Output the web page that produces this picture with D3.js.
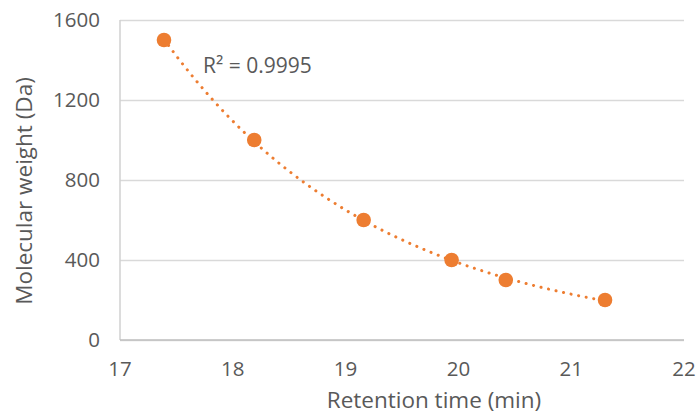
<!DOCTYPE html>
<html>
<head>
<meta charset="utf-8">
<script src="https://cdn.jsdelivr.net/npm/d3@7"></script>
<style>
  html, body { margin: 0; padding: 0; background: #fff; }
  svg { display: block; }
</style>
</head>
<body>
<svg id="chart" width="699" height="415"></svg>
<script>
const retentionTime = [17.39, 18.19, 19.16, 19.94, 20.42, 21.30];
const molecularWeight = [1500, 1000, 600, 400, 300, 200];
const xTicks = [17, 18, 19, 20, 21, 22];
const yTicks = [0, 400, 800, 1200, 1600];
const r2Label = "R² = 0.9995";
const xTitle = "Retention time (min)";
const yTitle = "Molecular weight (Da)";

const W = 699, H = 415;
const margin = { left: 120, right: 15, top: 20, bottom: 75 };
const svg = d3.select("#chart");
const font = "'Open Sans', sans-serif";
const textColor = "#595959";
const orange = "#ED7D31";

const x = d3.scaleLinear().domain([17, 22]).range([margin.left, W - margin.right]);
const y = d3.scaleLinear().domain([0, 1600]).range([H - margin.bottom, margin.top]);

// gridlines
const gy = svg.append("g")
  .attr("transform", `translate(${margin.left},0)`)
  .call(d3.axisLeft(y).tickValues(yTicks).tickSize(-(W - margin.right - margin.left)).tickFormat(""));
gy.select(".domain").remove();
gy.selectAll(".tick line").attr("stroke", "#D9D9D9").attr("stroke-width", 1.5);

// y tick labels
svg.append("g").selectAll("text").data(yTicks).join("text")
  .attr("x", margin.left - 20)
  .attr("y", d => y(d))
  .attr("dy", "0.36em")
  .attr("text-anchor", "end")
  .attr("font-family", font).attr("font-size", 20.5).attr("fill", textColor)
  .text(d => d);

// left axis line
svg.append("line")
  .attr("x1", x(17)).attr("x2", x(17))
  .attr("y1", y(1600)).attr("y2", y(0))
  .attr("stroke", "#D0D0D0").attr("stroke-width", 1.5);
// bottom axis line
svg.append("line")
  .attr("x1", x(17)).attr("x2", x(22))
  .attr("y1", y(0)).attr("y2", y(0))
  .attr("stroke", "#BFBFBF").attr("stroke-width", 1.5);

// x tick labels
svg.append("g").selectAll("text").data(xTicks).join("text")
  .attr("x", d => x(d))
  .attr("y", y(0) + 36)
  .attr("text-anchor", "middle")
  .attr("font-family", font).attr("font-size", 20.5).attr("fill", textColor)
  .text(d => d);

// axis titles
svg.append("text")
  .attr("x", 434)
  .attr("y", 408)
  .attr("text-anchor", "middle")
  .attr("font-family", font).attr("font-size", 22.5).attr("fill", textColor)
  .text(xTitle);
svg.append("text")
  .attr("transform", `translate(32,191) rotate(-90)`)
  .attr("text-anchor", "middle")
  .attr("font-family", font).attr("font-size", 22.5).attr("fill", textColor)
  .text(yTitle);

// exponential trendline fit (log-linear least squares)
const n = retentionTime.length;
const lx = retentionTime, ly = molecularWeight.map(Math.log);
const mx = d3.mean(lx), my = d3.mean(ly);
const b = d3.sum(lx.map((v, i) => (v - mx) * (ly[i] - my))) / d3.sum(lx.map(v => (v - mx) ** 2));
const a = my - b * mx;
const xs = d3.range(0, 101).map(i => lx[0] + (lx[n - 1] - lx[0]) * i / 100);
const trend = xs.map(v => [v, Math.exp(a + b * v)]);
svg.append("path")
  .attr("d", d3.line().x(d => x(d[0])).y(d => y(d[1]))(trend))
  .attr("fill", "none")
  .attr("stroke", orange)
  .attr("stroke-width", 3)
  .attr("stroke-linecap", "round")
  .attr("stroke-dasharray", "0.1 7.6");

// points
svg.append("g").selectAll("circle").data(retentionTime).join("circle")
  .attr("cx", d => x(d))
  .attr("cy", (d, i) => y(molecularWeight[i]))
  .attr("r", 7.3)
  .attr("fill", orange);

// R² label
svg.append("text")
  .attr("x", 203).attr("y", 73)
  .attr("font-family", font).attr("font-size", 21).attr("fill", textColor)
  .text(r2Label);
</script>
</body>
</html>
